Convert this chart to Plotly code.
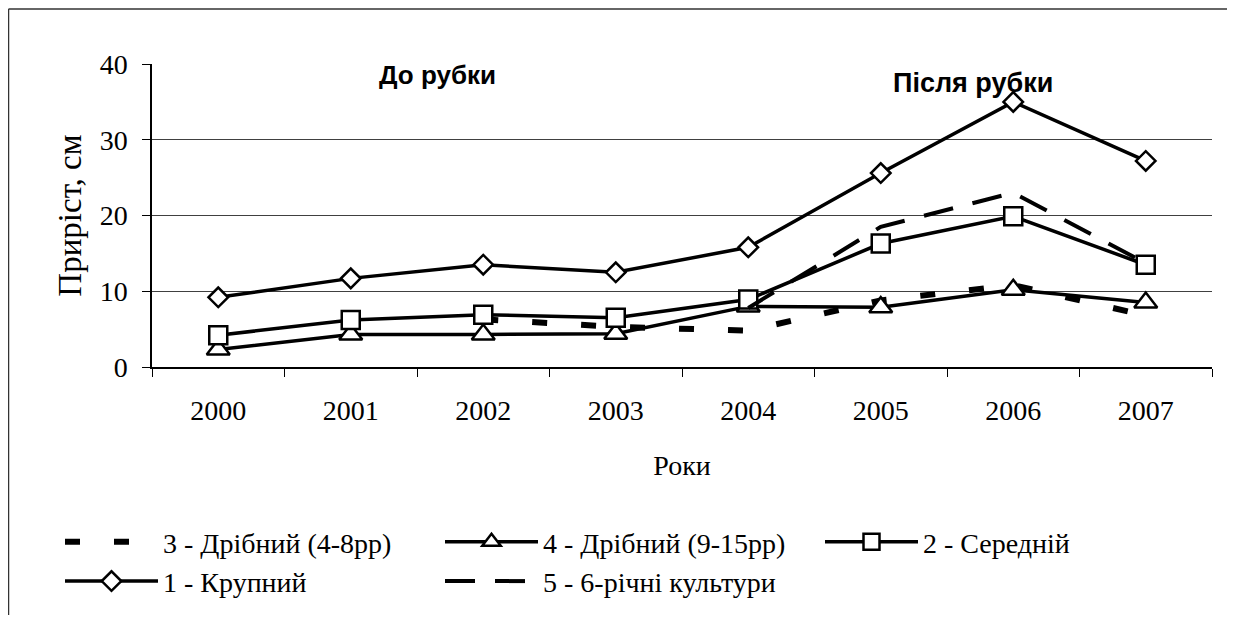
import plotly.graph_objects as go

years = ["2000", "2001", "2002", "2003", "2004", "2005", "2006", "2007"]
s3_small_4_8 = [None, None, 6.3, 5.3, 4.8, 8.8, 10.8, 6.8]
s4_small_9_15 = [2.3, 4.3, 4.3, 4.4, 8.0, 7.9, 10.2, 8.5]
s2_medium = [4.2, 6.2, 6.9, 6.5, 8.9, 16.3, 19.9, 13.5]
s1_large = [9.2, 11.7, 13.5, 12.5, 15.8, 25.6, 35.0, 27.2]
s5_cultures = [None, None, None, None, 7.8, 18.5, 23.0, 13.7]

names = ["3 - Дрібний (4-8рр)", "4 - Дрібний (9-15рр)", "2 - Середній",
         "1 - Крупний", "5 - 6-річні культури"]
y_ticks = [0, 10, 20, 30, 40]
cut_year = "2003"
label_before = "<b>До рубки</b>"
label_after = "<b>Після рубки</b>"

# page body has an 8px margin on every side: work in screen pixels,
# convert to figure pixels and keep the figure inside the viewport
OFF = 8
SW, SH = 1235, 623
W, H = SW - 2 * OFF, SH - 2 * OFF
L_s, R_s, T_s, B_s = 152, 1212, 64, 367  # plot area in screen pixels
ML = L_s - OFF
MT = T_s - OFF
MR = W - (R_s - OFF)
MB = H - (B_s - OFF)
PW, PH = R_s - L_s, B_s - T_s


def px_x(p):
    return (p - L_s) / PW


def px_y(p):
    return (B_s - p) / PH


serif = "Liberation Serif"
fig = go.Figure()
fig.add_trace(go.Scatter(x=years, y=s3_small_4_8, name=names[0], mode="lines",
                         line=dict(color="black", width=6, dash="15px,34px")))
fig.add_trace(go.Scatter(x=years, y=s4_small_9_15, name=names[1], mode="lines+markers",
                         line=dict(color="black", width=3.5),
                         marker=dict(symbol="triangle-up", size=20, color="white",
                                     line=dict(color="black", width=2.5))))
fig.add_trace(go.Scatter(x=years, y=s2_medium, name=names[2], mode="lines+markers",
                         line=dict(color="black", width=3.5),
                         marker=dict(symbol="square", size=18, color="white",
                                     line=dict(color="black", width=2.5))))
fig.add_trace(go.Scatter(x=years, y=s1_large, name=names[3], mode="lines+markers",
                         line=dict(color="black", width=3.5),
                         marker=dict(symbol="diamond", size=15, color="white",
                                     line=dict(color="black", width=2.5))))
fig.add_trace(go.Scatter(x=years, y=s5_cultures, name=names[4], mode="lines",
                         line=dict(color="black", width=4, dash="30px,20px")))

fig.add_shape(type="line", xref="x", yref="paper", x0=cut_year, x1=cut_year,
              y0=0, y1=1, line=dict(color="#808080", width=1.5), layer="below")
# outer chart frame (top and left edges visible in the picture)
fig.add_shape(type="line", xref="paper", yref="paper",
              x0=px_x(8.5), x1=px_x(SW + 10), y0=px_y(9), y1=px_y(9),
              line=dict(color="#333333", width=1.5))
fig.add_shape(type="line", xref="paper", yref="paper",
              x0=px_x(8.5), x1=px_x(8.5), y0=px_y(9), y1=px_y(SH + 10),
              line=dict(color="#333333", width=1.5))

fig.add_annotation(text=label_before, xref="paper", yref="paper", x=px_x(437), y=px_y(75),
                   showarrow=False, font=dict(family="Liberation Sans", size=26, color="black"),
                   xanchor="center", yanchor="middle")
fig.add_annotation(text=label_after, xref="paper", yref="paper", x=px_x(973), y=px_y(83),
                   showarrow=False, font=dict(family="Liberation Sans", size=27, color="black"),
                   xanchor="center", yanchor="middle")

fig.update_layout(
    width=W, height=H,
    margin=dict(l=ML, r=MR, t=MT, b=MB, pad=0, autoexpand=False),
    paper_bgcolor="white", plot_bgcolor="white",
    font=dict(family=serif, size=28, color="black"),
    showlegend=True,
    legend=dict(orientation="h", x=px_x(60), y=px_y(517), xanchor="left", yanchor="top",
                entrywidth=272, entrywidthmode="pixels", itemwidth=93,
                font=dict(family=serif, size=28, color="black"),
                bgcolor="rgba(0,0,0,0)", tracegroupgap=0, traceorder="normal"),
    xaxis=dict(type="category", categoryorder="array", categoryarray=years,
               tickson="boundaries", ticks="outside", ticklen=8, tickcolor="black",
               showline=True, linecolor="black", linewidth=1.5, showgrid=False,
               ticklabelstandoff=18, tickfont=dict(family=serif, size=28), automargin=False,
               title=dict(text="Роки", font=dict(family=serif, size=28), standoff=30),
               range=[-0.5, 7.5], fixedrange=True),
    yaxis=dict(range=[0, 40], tickvals=y_ticks, ticks="outside", ticklen=8, tickcolor="black",
               showline=True, linecolor="black", linewidth=1.5, automargin=False,
               showgrid=True, gridcolor="#404040", gridwidth=1.3, zeroline=False,
               ticklabelstandoff=9, tickfont=dict(family=serif, size=28),
               title=dict(text="Приріст, см", font=dict(family=serif, size=33), standoff=8),
               fixedrange=True),
)

fig.write_html("out.html")
